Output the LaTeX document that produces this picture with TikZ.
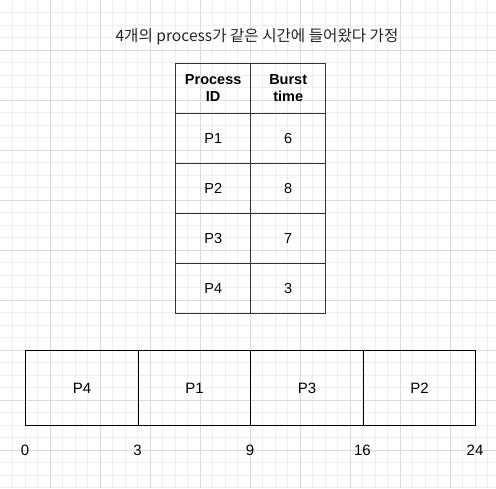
\documentclass[tikz,border=0pt]{standalone}
\usepackage{fontspec}
\setmainfont{Liberation Sans}
\newfontfamily\krfont{Noto Sans CJK KR}
\definecolor{minorgrid}{HTML}{EEEEEE}
\definecolor{majorgrid}{HTML}{DADADA}
\definecolor{tableline}{HTML}{333333}
\tikzset{
  cell/.style={draw=tableline, line width=1.4pt, minimum width=75pt, minimum height=50pt, inner sep=0pt, anchor=north west, font=\fontsize{14.5}{17.4}\selectfont, align=center},
  headcell/.style={cell, font=\fontsize{14.5}{17.4}\selectfont\bfseries},
  gbox/.style={draw=black, line width=1.4pt, minimum width=112.5pt, minimum height=75pt, inner sep=0pt, anchor=north west, font=\fontsize{15}{18}\selectfont},
  tick/.style={font=\fontsize{15}{18}\selectfont, inner sep=0pt}
}
\begin{document}
\begin{tikzpicture}[x=1pt,y=-1pt]
\useasboundingbox (0,0) rectangle (496,488);
\fill[white] (0,0) rectangle (496,488);
\foreach \i in {1,...,39} {
  \draw[minorgrid, line width=0.8pt] (\i*12.5,0) -- (\i*12.5,488);
  \draw[minorgrid, line width=0.8pt] (0,\i*12.5) -- (496,\i*12.5);
}
\foreach \i in {1,...,9} {
  \draw[majorgrid, line width=0.8pt] (\i*50,0) -- (\i*50,488);
  \draw[majorgrid, line width=0.8pt] (0,\i*50) -- (496,\i*50);
}
\node[font=\krfont\fontsize{15.6}{18}\selectfont, inner sep=0pt, text=black!85] (title) at (257,37) {4개의 process가 같은 시간에 들어왔다 가정};
% table
\node[headcell] (h1) at (175,62.5) {Process\\ID};
\node[headcell] (h2) at (250,62.5) {Burst\\time};
\node[cell] (p1) at (175,112.5) {P1};
\node[cell] (b1) at (250,112.5) {6};
\node[cell] (p2) at (175,162.5) {P2};
\node[cell] (b2) at (250,162.5) {8};
\node[cell] (p3) at (175,212.5) {P3};
\node[cell] (b3) at (250,212.5) {7};
\node[cell] (p4) at (175,262.5) {P4};
\node[cell] (b4) at (250,262.5) {3};
% gantt
\node[gbox] (g1) at (25,350) {P4};
\node[gbox] (g2) at (137.5,350) {P1};
\node[gbox] (g3) at (250,350) {P3};
\node[gbox] (g4) at (362.5,350) {P2};
\node[tick] (t0) at (25,450.5) {0};
\node[tick] (t3) at (137.5,450.5) {3};
\node[tick] (t9) at (250,450.5) {9};
\node[tick] (t16) at (362.5,450.5) {16};
\node[tick] (t24) at (475,450.5) {24};
\end{tikzpicture}
\end{document}
